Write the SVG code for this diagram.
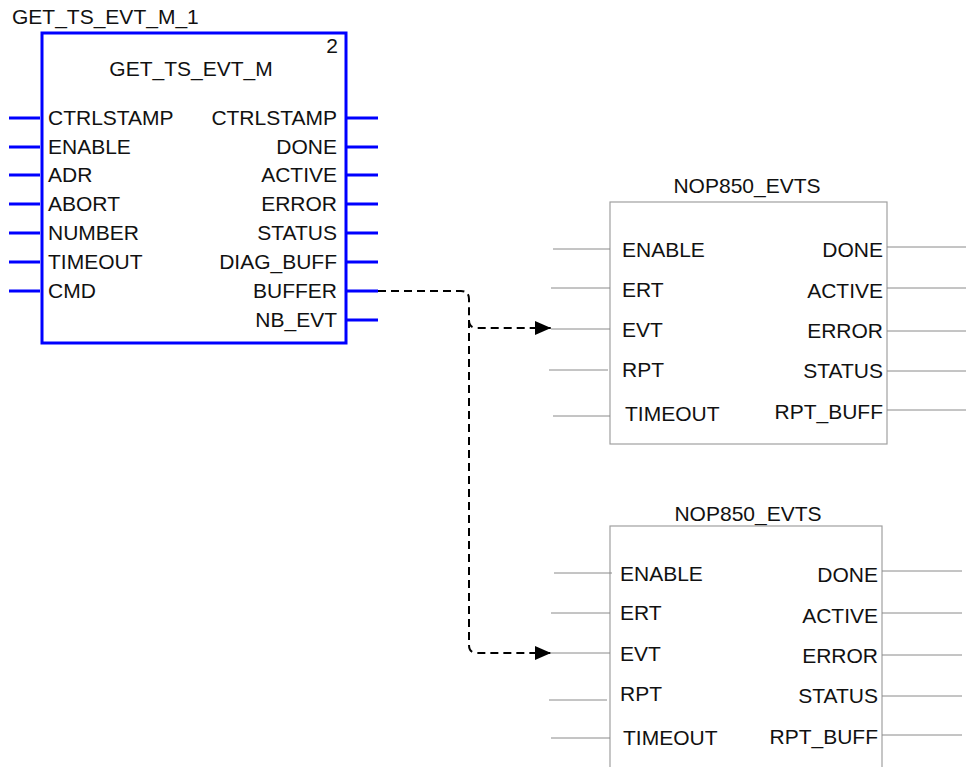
<svg xmlns="http://www.w3.org/2000/svg" width="970" height="767" viewBox="0 0 970 767">
<defs>
<style>
text{font-family:"Liberation Sans",Arial,sans-serif;font-size:21px;fill:#111}
.r{text-anchor:end}
.m{text-anchor:middle}
.bp{stroke:#0000ff;stroke-width:3;fill:none}
.gp{stroke:#8a8a8a;stroke-width:1;fill:none}
.gb{stroke:#a0a0a0;stroke-width:1.2;fill:#fff}
.dash{stroke:#000;stroke-width:2;fill:none;stroke-dasharray:8,5}
</style>
<marker id="arr" markerWidth="16" markerHeight="14" refX="16" refY="7" orient="auto" markerUnits="userSpaceOnUse">
<path d="M0,0 L16,7 L0,14 Z" fill="#000"/>
</marker>
</defs>
<rect width="970" height="767" fill="#fff"/>

<g id="get_ts_evt_m_1">
<text x="12" y="24">GET_TS_EVT_M_1</text>
<rect x="42" y="33" width="304" height="310" class="bp"/>
<text x="338" y="53" class="r">2</text>
<text x="191" y="76" class="m">GET_TS_EVT_M</text>
<path class="bp" d="M9,118H40M9,147H40M9,175H40M9,204H40M9,233H40M9,262H40M9,291H40M346,118H378M346,147H378M346,175H378M346,204H378M346,233H378M346,262H378M346,291H378M346,320H378"/>
<text x="48" y="125">CTRLSTAMP</text>
<text x="48" y="154">ENABLE</text>
<text x="48" y="182">ADR</text>
<text x="48" y="211">ABORT</text>
<text x="48" y="240">NUMBER</text>
<text x="48" y="269">TIMEOUT</text>
<text x="48" y="298">CMD</text>
<text x="337" y="125" class="r">CTRLSTAMP</text>
<text x="337" y="154" class="r">DONE</text>
<text x="337" y="182" class="r">ACTIVE</text>
<text x="337" y="211" class="r">ERROR</text>
<text x="337" y="240" class="r">STATUS</text>
<text x="337" y="269" class="r">DIAG_BUFF</text>
<text x="337" y="298" class="r">BUFFER</text>
<text x="337" y="327" class="r">NB_EVT</text>
</g>

<g id="nop850_evts_1">
<text x="747" y="193" class="m">NOP850_EVTS</text>
<rect x="610" y="202" width="277" height="242" class="gb"/>
<path class="gp" d="M553,249H610M551,288H610M551,329H610M549,370H608M553,416H610M887,247H966M887,288H966M887,331H966M887,371H966M887,410H966"/>
<text x="622" y="257">ENABLE</text>
<text x="622" y="297">ERT</text>
<text x="622" y="337">EVT</text>
<text x="622" y="377">RPT</text>
<text x="625" y="421">TIMEOUT</text>
<text x="883" y="257" class="r">DONE</text>
<text x="883" y="298" class="r">ACTIVE</text>
<text x="883" y="338" class="r">ERROR</text>
<text x="883" y="378" class="r">STATUS</text>
<text x="883" y="419" class="r">RPT_BUFF</text>
</g>

<g id="nop850_evts_2">
<text x="748" y="521" class="m">NOP850_EVTS</text>
<rect x="610" y="526" width="272" height="260" class="gb"/>
<path class="gp" d="M554,573H612M551,613H610M551,653H610M549,700H607M551,738H610M882,571H962M882,613H962M882,655H962M882,696H962M882,735H962"/>
<text x="620" y="581">ENABLE</text>
<text x="620" y="620">ERT</text>
<text x="620" y="661">EVT</text>
<text x="620" y="701">RPT</text>
<text x="623" y="745">TIMEOUT</text>
<text x="878" y="582" class="r">DONE</text>
<text x="878" y="623" class="r">ACTIVE</text>
<text x="878" y="663" class="r">ERROR</text>
<text x="878" y="703" class="r">STATUS</text>
<text x="878" y="744" class="r">RPT_BUFF</text>
</g>

<g id="connectors">
<path class="dash" marker-end="url(#arr)" d="M378,291H461Q469,291 469,299V320Q469,328 477,328H551"/>
<path class="dash" marker-end="url(#arr)" d="M469,320V645Q469,653 477,653H551"/>
</g>
</svg>
